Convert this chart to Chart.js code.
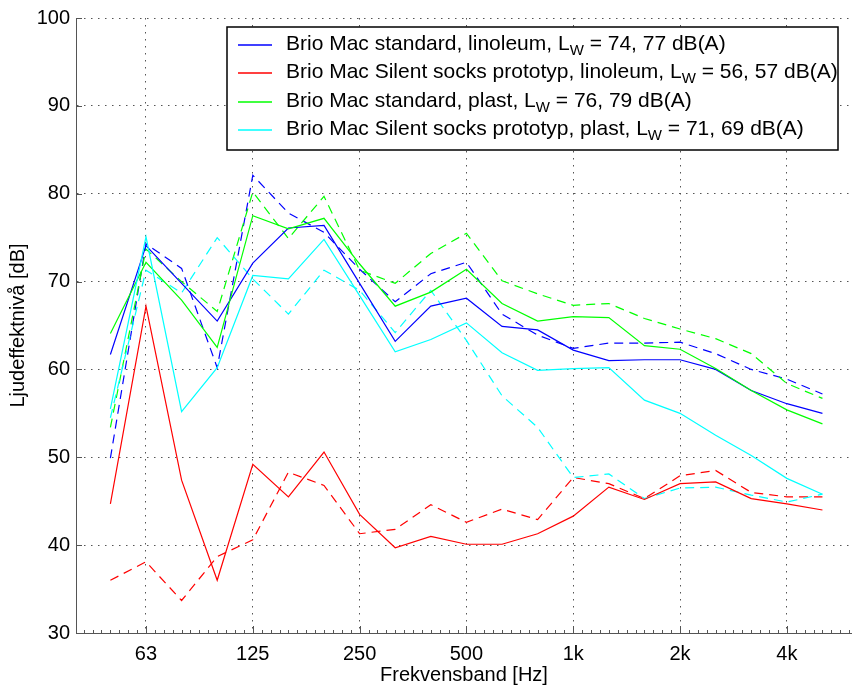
<!DOCTYPE html>
<html><head><meta charset="utf-8">
<script src="https://cdn.jsdelivr.net/npm/chart.js@4.4.1/dist/chart.umd.min.js"></script>
<style>html,body{margin:0;padding:0;background:#fff;}#wrap{width:852px;height:691px;}</style>
</head><body><div id="wrap"><canvas id="c" width="852" height="691"></canvas></div>
<script>
// Third-octave band centre frequencies (categories)
const bands = ['50','63','80','100','125','160','200','250','315','400','500','630','800','1k','1.25k','1.6k','2k','2.5k','3.15k','4k','5k'];
const xTickLabels = ['63','125','250','500','1k','2k','4k'];
const yTickValues = [30,40,50,60,70,80,90,100];

const seriesNames = [
  ['Brio Mac standard, linoleum, L', 'W', ' = 74, 77 dB(A)'],
  ['Brio Mac Silent socks prototyp, linoleum, L', 'W', ' = 56, 57 dB(A)'],
  ['Brio Mac standard, plast, L', 'W', ' = 76, 79 dB(A)'],
  ['Brio Mac Silent socks prototyp, plast, L', 'W', ' = 71, 69 dB(A)']
];

// Solid = first measurement, dashed = second measurement
const stdLinoleumSolid   = [61.7,74.1,69.8,65.5,72.1,76.1,76.4,69.8,63.2,67.2,68.1,64.9,64.5,62.2,61.0,61.1,61.1,60.0,57.6,56.1,55.0];
const stdLinoleumDashed  = [49.9,74.3,71.5,60.2,82.1,77.8,75.6,71.4,67.7,70.9,72.2,66.3,63.9,62.4,63.0,63.0,63.1,61.8,60.0,58.9,57.2];
const silLinoleumSolid   = [44.7,67.2,47.4,36.0,49.2,45.5,50.6,43.5,39.7,41.0,40.1,40.1,41.3,43.3,46.6,45.2,47.0,47.2,45.3,44.7,44.0];
const silLinoleumDashed  = [36.0,38.1,33.7,38.7,40.6,48.3,46.8,41.3,41.8,44.6,42.6,44.1,42.9,47.7,47.0,45.3,47.9,48.5,46.0,45.5,45.5];
const stdPlastSolid      = [64.1,72.2,67.9,62.5,77.5,76.0,77.2,72.0,67.2,68.8,71.4,67.5,65.5,66.0,65.9,62.7,62.3,60.1,57.6,55.4,53.8];
const stdPlastDashed     = [53.4,73.7,70.0,66.6,80.2,74.9,79.7,71.3,69.8,73.2,75.5,70.1,68.6,67.3,67.5,65.8,64.6,63.5,61.8,58.4,56.7];
const silPlastSolid      = [55.5,75.1,55.2,60.2,70.7,70.3,74.8,68.4,62.0,63.4,65.3,61.9,59.9,60.1,60.2,56.5,55.0,52.5,50.2,47.6,45.8];
const silPlastDashed     = [54.5,71.3,68.7,75.0,70.3,66.3,71.3,69.0,64.2,69.0,63.3,57.0,53.4,47.7,48.1,45.3,46.5,46.6,45.7,44.9,45.8];

const colors = ['#0000ff','#ff0000','#00ff00','#00ffff'];
const FONT = "'Liberation Sans', Arial, Helvetica, sans-serif";

const majorIdx = xTickLabels.map(l => bands.indexOf(l));
const toPts = arr => arr.map((v,i) => ({x:i, y:v}));

const solids = [stdLinoleumSolid, silLinoleumSolid, stdPlastSolid, silPlastSolid];
const dashes = [stdLinoleumDashed, silLinoleumDashed, stdPlastDashed, silPlastDashed];

const datasets = [];
dashes.forEach((arr,k) => datasets.push({label:seriesNames[k].join('')+' (2)', data:toPts(arr), borderColor:colors[k], borderWidth:1.2, borderDash:[9,6], order:20-k}));
solids.forEach((arr,k) => datasets.push({label:seriesNames[k].join(''), data:toPts(arr), borderColor:colors[k], borderWidth:1.2, order:10-k}));

const axisTicks = {
  id:'axisTicks',
  afterDatasetsDraw(chart){
    const {ctx, scales:{x,y}, chartArea:a} = chart;
    ctx.save();
    ctx.strokeStyle = '#555'; ctx.lineWidth = 1;
    for (let v = Math.ceil(x.min*4)/4; v <= x.max; v += 0.25) {
      const px = Math.round(x.getPixelForValue(v)) + 0.5;
      const major = majorIdx.includes(v);
      ctx.beginPath(); ctx.moveTo(px, a.bottom); ctx.lineTo(px, a.bottom - (major ? 7 : 3)); ctx.stroke();
    }
    yTickValues.forEach(v => {
      const py = Math.round(y.getPixelForValue(v)) + 0.5;
      ctx.beginPath(); ctx.moveTo(a.left, py); ctx.lineTo(a.left + 6, py); ctx.stroke();
    });
    ctx.restore();
  }
};

const legendBox = {
  id:'legendBox',
  afterDraw(chart){
    const ctx = chart.ctx;
    const bx = 227, by = 27, bw = 611, bh = 123;
    ctx.save();
    ctx.fillStyle = '#fff';
    ctx.fillRect(bx, by, bw, bh);
    ctx.strokeStyle = '#000'; ctx.lineWidth = 1.5;
    ctx.strokeRect(bx, by, bw, bh);
    const rows = [44, 72, 101, 129];
    seriesNames.forEach((parts,k) => {
      const ry = rows[k];
      ctx.strokeStyle = colors[k]; ctx.lineWidth = 1.5;
      ctx.beginPath(); ctx.moveTo(238, ry + 1); ctx.lineTo(272, ry + 1); ctx.stroke();
      ctx.fillStyle = '#000';
      ctx.textBaseline = 'middle'; ctx.textAlign = 'left';
      ctx.font = '21px ' + FONT;
      let tx = 286;
      ctx.fillText(parts[0], tx, ry);
      tx += ctx.measureText(parts[0]).width;
      ctx.font = '15px ' + FONT;
      ctx.fillText(parts[1], tx, ry + 7);
      tx += ctx.measureText(parts[1]).width;
      ctx.font = '21px ' + FONT;
      ctx.fillText(parts[2], tx, ry);
    });
    ctx.restore();
  }
};

new Chart(document.getElementById('c'), {
  type:'line',
  data:{datasets},
  plugins:[axisTicks, legendBox],
  options:{
    responsive:false, animation:false, devicePixelRatio:1,
    layout:{padding:{top:18, right:0, bottom:0, left:0}},
    elements:{point:{radius:0}, line:{tension:0, fill:false}},
    plugins:{legend:{display:false}, tooltip:{enabled:false}},
    scales:{
      x:{
        type:'linear', min:-0.966, max:20.83,
        afterBuildTicks: s => { s.ticks = majorIdx.map(v => ({value:v})); },
        afterFit: s => { s.height = 58; },
        ticks:{color:'#000', font:{family:FONT, size:20}, padding:9, maxRotation:0, autoSkip:false,
               callback:(v) => xTickLabels[majorIdx.indexOf(v)] ?? ''},
        grid:{color:'#555', lineWidth:1, drawTicks:false},
        border:{display:true, color:'#555', width:1, dash:[1.5,5.5]},
        title:{display:true, text:'Frekvensband [Hz]', color:'#000', font:{family:FONT, size:20}, padding:{top:0, bottom:4}}
      },
      y:{
        type:'linear', min:30, max:100,
        afterBuildTicks: s => { s.ticks = yTickValues.map(v => ({value:v})); },
        afterFit: s => { s.width = 76; },
        ticks:{color:'#000', font:{family:FONT, size:20}, padding:6},
        grid:{color:'#555', lineWidth:1, drawTicks:false},
        border:{display:true, color:'#555', width:1, dash:[1.5,5.5]},
        title:{display:true, text:'Ljudeffektnivå [dB]', color:'#000', font:{family:FONT, size:20}, padding:{top:6, bottom:0}}
      }
    }
  }
});
</script></body></html>
